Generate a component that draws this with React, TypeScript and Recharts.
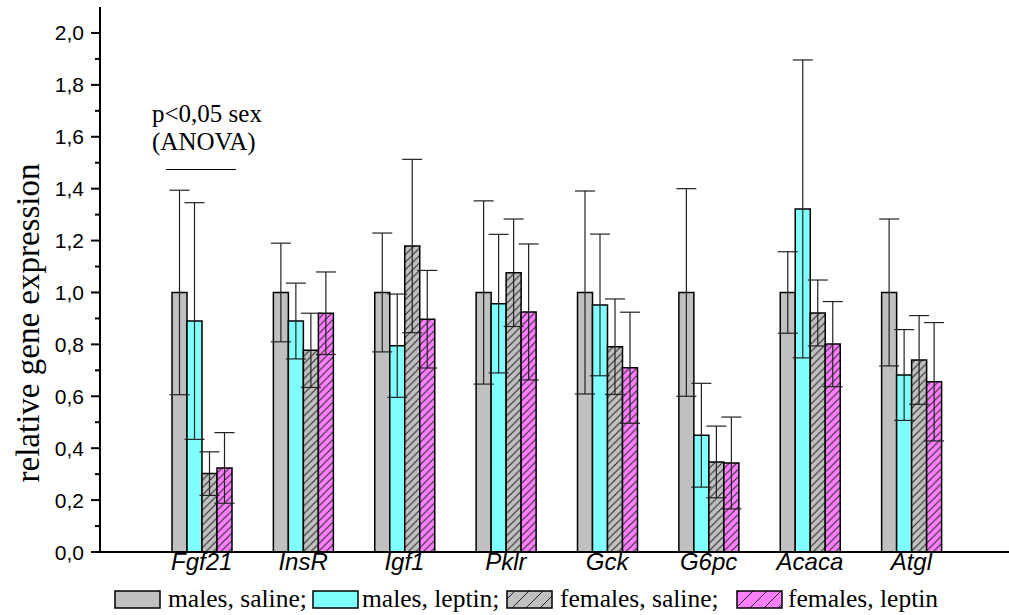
import React from 'react';
import { BarChart, Bar, XAxis, YAxis, ErrorBar } from 'recharts';

const genes = ['Fgf21', 'InsR', 'Igf1', 'Pklr', 'Gck', 'G6pc', 'Acaca', 'Atgl'];
const malesSaline = [1, 1, 1, 1, 1, 1, 1, 1];
const malesSalineSD = [0.394, 0.19, 0.229, 0.353, 0.391, 0.4, 0.157, 0.283];
const malesLeptin = [0.89, 0.89, 0.795, 0.957, 0.952, 0.45, 1.322, 0.682];
const malesLeptinSD = [0.456, 0.146, 0.199, 0.267, 0.273, 0.2, 0.574, 0.175];
const femalesSaline = [0.302, 0.777, 1.179, 1.076, 0.791, 0.347, 0.921, 0.74];
const femalesSalineSD = [0.084, 0.143, 0.334, 0.207, 0.184, 0.138, 0.127, 0.171];
const femalesLeptin = [0.324, 0.92, 0.897, 0.925, 0.71, 0.343, 0.801, 0.656];
const femalesLeptinSD = [0.136, 0.159, 0.188, 0.262, 0.214, 0.177, 0.164, 0.228];

const yTicks = [0, 0.1, 0.2, 0.3, 0.4, 0.5, 0.6, 0.7, 0.8, 0.9, 1.0, 1.1, 1.2, 1.3, 1.4, 1.5, 1.6, 1.7, 1.8, 1.9, 2.0];
const yTickLabels = ['0,0', '', '0,2', '', '0,4', '', '0,6', '', '0,8', '', '1,0', '', '1,2', '', '1,4', '', '1,6', '', '1,8', '', '2,0'];
const seriesNames = ['males, saline;', 'males, leptin;', 'females, saline;', 'females, leptin'];
const yLabel = 'relative gene expression';
const noteLines = ['p<0,05 sex', '(ANOVA)'];

const data = genes.map((g, i) => ({
  gene: g,
  ms: malesSaline[i],
  msSD: malesSalineSD[i],
  ml: malesLeptin[i],
  mlSD: malesLeptinSD[i],
  fs: femalesSaline[i],
  fsSD: femalesSalineSD[i],
  fl: femalesLeptin[i],
  flSD: femalesLeptinSD[i],
}));

const SANS = '"Liberation Sans", Arial, sans-serif';
const SERIF = '"Liberation Serif", "Times New Roman", serif';

const YTick = (props: any) => {
  const { x, y, index } = props;
  const label = yTickLabels[index];
  const major = label !== '';
  return (
    <g>
      <line x1={x - (major ? 9 : 5)} x2={x} y1={y} y2={y} stroke="#000" strokeWidth={2} />
      {major && (
        <text x={x - 16} y={y + 7.5} textAnchor="end" fontFamily={SANS} fontSize={21} fill="#000">
          {label}
        </text>
      )}
    </g>
  );
};

const XTick = (props: any) => {
  const { x, y, payload } = props;
  return (
    <text x={x} y={y + 18} textAnchor="middle" fontFamily={SANS} fontStyle="italic" fontSize={24} fill="#000">
      {payload.value}
    </text>
  );
};

const fills = ['#C0C0C0', '#80FFFF', 'url(#hatchGray)', 'url(#hatchPink)'];
const legendFills = ['#C0C0C0', '#80FFFF', 'url(#lhatchGray)', 'url(#lhatchPink)'];
const legendBoxX = [115, 313, 507, 737];
const legendTextX = [168, 362, 560, 788];

export default function App() {
  return (
    <div style={{ position: 'absolute', left: 0, top: 0, width: 1009, height: 615, background: '#fff' }}>
      <svg width={0} height={0} style={{ position: 'absolute' }}>
        <defs>
          <pattern id="hatchGray" patternUnits="userSpaceOnUse" width={7.5} height={7.5}>
            <rect width={7.5} height={7.5} fill="#C0C0C0" />
            <path d="M0,7.5 L7.5,0 M-1,1 L1,-1 M6.5,8.5 L8.5,6.5" stroke="#222" strokeWidth={1} />
          </pattern>
          <pattern id="hatchPink" patternUnits="userSpaceOnUse" width={7.5} height={7.5}>
            <rect width={7.5} height={7.5} fill="#FF80FF" />
            <path d="M0,7.5 L7.5,0 M-1,1 L1,-1 M6.5,8.5 L8.5,6.5" stroke="#222" strokeWidth={1} />
          </pattern>
          <pattern id="lhatchGray" patternUnits="userSpaceOnUse" width={14} height={14}>
            <rect width={14} height={14} fill="#C0C0C0" />
            <path d="M0,14 L14,0 M-1,1 L1,-1 M13,15 L15,13" stroke="#222" strokeWidth={1} />
          </pattern>
          <pattern id="lhatchPink" patternUnits="userSpaceOnUse" width={14} height={14}>
            <rect width={14} height={14} fill="#FF80FF" />
            <path d="M0,14 L14,0 M-1,1 L1,-1 M13,15 L15,13" stroke="#222" strokeWidth={1} />
          </pattern>
        </defs>
      </svg>
      <BarChart
        width={1009}
        height={615}
        data={data}
        margin={{ top: 7, right: 0, bottom: 0, left: 0 }}
        barGap={0}
        barSize={15}
      >
        <XAxis
          dataKey="gene"
          axisLine={{ stroke: '#000', strokeWidth: 2 }}
          tickLine={false}
          tickSize={0}
          tickMargin={0}
          height={63}
          padding={{ left: 51, right: 47 }}
          interval={0}
          tick={<XTick />}
        />
        <YAxis
          type="number"
          domain={[0, 2.1]}
          ticks={yTicks}
          interval={0}
          width={100}
          axisLine={{ stroke: '#000', strokeWidth: 2 }}
          tickLine={false}
          tickSize={0}
          tickMargin={0}
          tick={<YTick />}
          allowDataOverflow
        />
        <Bar dataKey="ms" fill={fills[0]} stroke="#000" strokeWidth={1.5} isAnimationActive={false}>
          <ErrorBar dataKey="msSD" width={10} stroke="#222" strokeWidth={1.2} />
        </Bar>
        <Bar dataKey="ml" fill={fills[1]} stroke="#000" strokeWidth={1.5} isAnimationActive={false}>
          <ErrorBar dataKey="mlSD" width={10} stroke="#222" strokeWidth={1.2} />
        </Bar>
        <Bar dataKey="fs" fill={fills[2]} stroke="#000" strokeWidth={1.5} isAnimationActive={false}>
          <ErrorBar dataKey="fsSD" width={10} stroke="#222" strokeWidth={1.2} />
        </Bar>
        <Bar dataKey="fl" fill={fills[3]} stroke="#000" strokeWidth={1.5} isAnimationActive={false}>
          <ErrorBar dataKey="flSD" width={10} stroke="#222" strokeWidth={1.2} />
        </Bar>
      </BarChart>
      <svg width={1009} height={615} style={{ position: 'absolute', left: 0, top: 0, pointerEvents: 'none' }}>
        <text
          x={39}
          y={323}
          transform="rotate(-90, 39, 323)"
          textAnchor="middle"
          fontFamily={SERIF}
          fontSize={33}
          fill="#000"
        >
          {yLabel}
        </text>
        <text x={152} y={122} fontFamily={SERIF} fontSize={25} fill="#000">{noteLines[0]}</text>
        <text x={152} y={150} fontFamily={SERIF} fontSize={25} fill="#000">{noteLines[1]}</text>
        <line x1={166} x2={236} y1={169.5} y2={169.5} stroke="#000" strokeWidth={1.2} />
        {seriesNames.map((name, i) => (
          <g key={name}>
            <rect x={legendBoxX[i]} y={591} width={45} height={17} fill={legendFills[i]} stroke="#000" strokeWidth={1.5} />
            <text x={legendTextX[i]} y={607} fontFamily={SERIF} fontSize={25.5} fill="#000">{name}</text>
          </g>
        ))}
      </svg>
    </div>
  );
}
